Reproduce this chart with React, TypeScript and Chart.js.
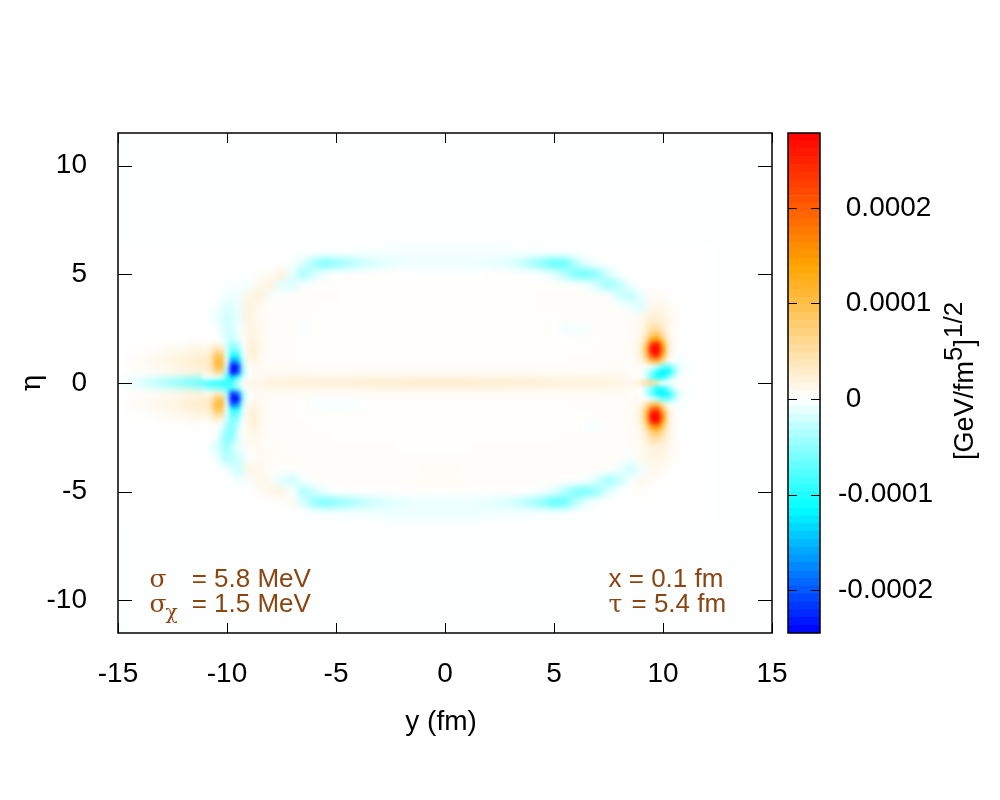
import React, { useEffect, useRef } from "react";
import { Chart, registerables } from "chart.js";

Chart.register(...registerables);

// All field values are in units of 1e-6 GeV/fm^5 ^ 1/2.
const coarseY = [
  -14.5, -14, -13.5, -13, -12.5, -12, -11.5,
  -11, -10.5, -10, -9.5, -9, -8.5,
  -8, -7.5, -7, -6.5, -6, -5.5, -5,
  -4.5, -4, -3.5, -3, -2.5, -2, -1.5, -1, -0.5,
  0, 0.5, 1, 1.5, 2, 2.5, 3, 3.5, 4,
  4.5, 5, 5.5, 6, 6.5, 7, 7.5, 8,
  8.5, 9, 9.5, 10, 10.5, 11, 11.5, 12,
];
const coarseEta = [6, 5.5, 5, 4.5, 4, 3.5, 3, 2.5, 2, 1.5, 1, 0.5, 0, -0.5, -1, -1.5, -2, -2.5, -3, -3.5, -4, -4.5, -5, -5.5, -6];
const coarseValues = [
  [0,0,0,0,0,0,0, 0,0,0,0,0,0, 0,0,0,0,0,-1,-1, -2,-2,-3,-4,-4,-5,-5,-5,-5, -5,-5,-5,-5,-5,-4,-4,-3,-2, -2,-1,-1,0,0,0,0,0, 0,0,0,0,0,0,0,0],
  [0,0,0,0,0,0,0, 0,0,0,0,0,0, 0,0,-3,-15,-40,-62,-50, -42,-30,-22,-16,-12,-9,-7,-7,-7, -7,-7,-7,-8,-9,-12,-16,-26,-42, -58,-75,-70,-32,-10,-2,0,0, 0,0,0,0,0,0,0,0],
  [0,0,0,0,0,0,0, 0,0,0,0,0,3, 5,20,-10,-42,-20,-5,0, 1,1,1,1,1,1,0,0,0, 0,0,0,0,1,1,1,1,0, -4,-12,-32,-62,-66,-50,-18,-2, 0,0,0,0,0,0,0,0],
  [0,0,0,0,0,0,0, 0,0,-2,-4,-5,8, 20,-15,-18,-2,2,2,2, 2,2,2,2,1,1,1,1,1, 1,1,1,1,1,2,2,2,2, 2,2,2,1,-4,-22,-48,-32, -6,0,0,0,0,0,0,0],
  [0,0,0,0,0,0,0, 0,0,-6,-8,12,22, -5,2,3,3,3,3,3, 2,2,2,2,2,1,1,1,1, 1,1,1,1,2,2,2,2,2, 3,3,3,3,3,3,2,-20, -30,-10,6,4,0,0,0,0],
  [0,0,0,0,0,0,0, 0,-3,-16,-10,20,8, 2,3,3,3,3,2,2, 2,2,2,1,1,1,1,1,1, 1,1,1,1,1,2,2,2,2, 3,3,3,3,3,3,3,2, -8,-16,10,12,3,0,0,0],
  [0,0,0,0,0,0,0, 0,-8,-22,-12,18,6, 3,3,3,3,2,2,2, 2,2,1,1,1,1,1,1,1, 1,1,1,1,1,1,2,2,2, 2,2,3,3,3,3,3,3, 4,8,25,18,5,0,0,0],
  [0,0,0,0,0,0,0, 0,-2,-20,-8,14,8, 3,3,3,-4,2,2,2, 2,1,1,1,1,1,1,1,1, 1,1,1,1,1,1,2,2,2, 2,2,-5,-5,-5,3,3,3, 4,10,48,30,5,0,0,0],
  [0,0,0,0,0,0,1, 1,5,-20,-15,14,8, 3,3,3,2,2,2,2, 1,1,1,1,1,1,1,1,1, 1,1,1,1,1,1,1,1,2, 2,2,2,2,2,2,3,3, 4,16,130,70,5,0,0,0],
  [1,2,3,5,8,10,14, 18,50,-18,-60,18,10, 3,3,3,2,2,2,2, 1,1,1,1,1,1,1,1,1, 1,1,1,1,1,1,1,1,2, 2,2,2,2,2,3,3,3, 5,25,300,150,6,0,0,0],
  [3,5,8,12,16,20,25, 30,100,-10,-160,10,6, 3,3,3,2,2,2,2, 2,2,2,1,1,1,1,1,1, 1,1,1,1,2,2,2,2,2, 2,2,2,3,3,3,3,3, 4,14,100,50,0,0,0,0],
  [2,3,5,7,10,14,18, 22,60,-45,-230,0,6, 6,5,5,5,4,4,4, 4,4,4,4,4,4,4,4,4, 4,4,4,4,4,4,4,4,4, 4,4,4,4,4,4,5,5, 4,3,-80,-115,-50,-5,0,0],
  [-8,-15,-25,-35,-45,-55,-65, -75,-90,-95,-30,12,15, 18,20,22,22,22,22,22, 22,24,24,26,26,26,28,28,28, 28,28,28,26,26,26,24,24,24, 22,22,20,20,20,20,18,16, 14,55,40,0,0,0,0,0],
  [2,3,5,7,10,14,18, 22,60,-45,-210,0,6, 6,5,5,5,4,4,4, 4,4,4,4,4,4,4,4,4, 4,4,4,4,4,4,4,4,4, 4,4,4,4,4,4,5,5, 4,0,-85,-115,-45,-4,0,0],
  [3,5,8,12,16,20,25, 30,100,-12,-180,8,6, 3,3,3,2,-3,-4,-4, -4,-3,1,1,1,1,1,1,1, 1,1,1,1,2,2,2,2,2, 2,2,2,3,3,3,3,3, 4,14,95,40,0,0,0,0],
  [1,2,3,5,8,10,14, 18,50,-20,-65,16,10, 3,3,3,2,2,2,2, 2,1,1,1,1,1,1,1,1, 1,1,1,1,1,1,1,1,2, 2,2,2,2,2,3,3,3, 5,25,300,170,6,0,0,0],
  [0,0,0,0,0,0,1, 1,5,-40,-40,12,8, 3,3,3,3,2,2,2, 2,2,2,2,2,2,2,2,2, 2,2,2,2,2,2,2,2,2, 2,2,2,2,-3,-3,3,3, 4,16,150,90,6,0,0,0],
  [0,0,0,0,0,0,0, 0,-10,-55,-18,8,6, 3,3,3,3,3,3,2, 2,2,2,2,2,2,2,2,2, 2,2,2,2,2,2,2,2,2, 2,2,3,3,3,3,3,3, 4,8,50,35,5,0,0,0],
  [0,0,0,0,0,0,0, 0,-15,-45,-10,5,6, 5,4,3,3,3,3,3, 3,3,3,3,3,2,2,2,2, 2,2,2,3,3,3,3,3,3, 3,3,3,3,3,3,3,3, 4,6,18,18,5,0,0,0],
  [0,0,0,0,0,0,0, 0,-3,-35,-25,3,6, 6,5,4,3,3,3,3, 3,3,3,3,3,3,3,3,3, 3,3,3,3,3,3,3,3,3, 3,3,3,3,3,3,3,3, -6,8,14,14,3,0,0,0],
  [0,0,0,0,0,0,0, 0,0,-3,-25,14,12, 3,2,2,3,3,3,3, 3,3,3,3,3,3,3,4,4, 4,4,3,3,3,3,3,3,3, 3,3,3,3,3,3,2,-8, -24,-8,10,6,0,0,0,0],
  [0,0,0,0,0,0,0, 0,0,0,-6,-5,12, 8,-14,-24,-5,2,3,3, 3,3,3,3,3,3,4,5,5, 5,5,4,3,3,3,3,3,3, 3,3,2,1,-4,-18,-44,-28, -4,8,6,0,0,0,0,0],
  [0,0,0,0,0,0,0, 0,0,0,0,0,4, 12,18,0,-38,-22,-6,-1, 1,1,1,1,1,1,1,1,1, 1,1,1,1,1,1,1,1,0, -4,-12,-34,-58,-62,-44,-15,0, 0,5,0,0,0,0,0,0],
  [0,0,0,0,0,0,0, 0,0,0,0,0,0, 0,0,8,-18,-48,-64,-54, -45,-36,-26,-20,-15,-12,-10,-8,-8, -8,-8,-8,-10,-12,-15,-20,-28,-42, -56,-75,-70,-32,-8,-2,0,0, 0,0,0,0,0,0,0,0],
  [0,0,0,0,0,0,0, 0,0,0,0,0,0, 0,0,0,0,-1,-2,-3, -3,-4,-5,-6,-7,-7,-7,-7,-7, -7,-7,-7,-7,-6,-5,-4,-4,-3, -2,-2,-1,0,0,0,0,0, 0,0,0,0,0,0,0,0],
];

const fineEta = [2.5, 2.25, 2, 1.75, 1.5, 1.25, 1, 0.75, 0.5, 0.25, 0, -0.25, -0.5, -0.75, -1, -1.25, -1.5, -1.75, -2, -2.25, -2.5];
const leftY = [-11, -10.75, -10.5, -10.25, -10, -9.75, -9.5, -9.25, -9, -8.75, -8.5];
const leftValues = [
  [0,0,0,-12,-20,-18,-8,6,14,14,8],
  [0,0,0,-10,-20,-22,-10,6,14,16,10],
  [0,0,2,-4,-20,-25,-15,2,14,18,10],
  [4,8,18,12,-22,-45,-35,-4,16,22,12],
  [14,22,50,42,-18,-65,-55,-6,18,24,12],
  [20,32,85,85,-15,-110,-95,-12,16,22,10],
  [26,38,100,110,-10,-170,-150,-22,10,16,8],
  [24,36,95,105,-25,-250,-220,-35,5,10,6],
  [16,26,60,60,-45,-250,-210,-40,0,6,6],
  [-5,-8,-10,-15,-75,-130,-85,-20,0,5,5],
  [-75,-85,-90,-95,-95,-75,-30,5,15,15,15],
  [-40,-50,-55,-60,-75,-85,-50,-8,8,10,8],
  [10,14,30,30,-45,-220,-190,-40,0,6,6],
  [22,34,80,95,-30,-270,-240,-40,2,8,6],
  [26,38,100,110,-12,-190,-170,-22,8,12,8],
  [20,32,85,85,-12,-100,-95,-12,14,20,10],
  [14,22,50,45,-20,-70,-60,-8,16,25,12],
  [4,10,18,12,-28,-60,-40,-4,14,24,12],
  [0,0,4,-8,-40,-55,-28,0,12,20,10],
  [0,0,0,-20,-48,-55,-22,2,10,16,10],
  [0,0,0,-32,-55,-50,-18,2,8,12,8],
];
const rightY = [8.5, 8.75, 9, 9.25, 9.5, 9.75, 10, 10.25, 10.5, 10.75, 11];
const rightValues = [
  [4,6,10,25,45,50,30,12,4,0,0],
  [4,6,12,35,70,80,45,16,5,0,0],
  [4,7,16,55,130,145,80,20,5,0,0],
  [5,8,22,90,240,270,140,25,6,0,0],
  [5,8,25,110,300,330,170,28,6,0,0],
  [4,8,20,85,220,250,120,22,4,-2,-2],
  [4,7,14,45,100,110,55,8,-4,-6,-3],
  [3,5,6,4,-5,-30,-60,-70,-40,-10,-3],
  [3,4,2,-20,-55,-95,-120,-110,-60,-15,-3],
  [4,5,2,-25,-65,-105,-100,-60,-20,-5,-1],
  [12,15,30,55,55,35,0,0,0,0,0],
  [4,5,0,-25,-60,-100,-95,-55,-18,-4,-1],
  [3,4,0,-25,-70,-110,-120,-105,-55,-15,-3],
  [3,5,4,-3,-12,-35,-60,-62,-35,-8,-2],
  [4,7,14,45,95,100,40,5,-4,-4,-2],
  [4,8,20,85,210,230,110,22,4,-2,-2],
  [5,8,25,110,300,330,170,28,6,0,0],
  [5,8,22,95,260,290,150,28,6,0,0],
  [4,7,16,60,150,165,90,24,6,0,0],
  [4,6,12,35,80,90,55,20,6,0,0],
  [4,6,10,25,50,55,35,16,5,0,0],
];

const xTicks = [-15, -10, -5, 0, 5, 10, 15];
const etaTicks = [-10, -5, 0, 5, 10];
const cbTicks = [-0.0002, -0.0001, 0, 0.0001, 0.0002];
const cbMin = -0.000245;
const cbMax = 0.0002785;
const cbLevels = 64;

const INK = "#000000";
const BROWN = "#8b4513";
const SANS = '"Liberation Sans", Arial, sans-serif';
const SERIF = '"DejaVu Serif", "Liberation Serif", serif';

function lerp(a: number[], b: number[], t: number) {
  return `rgb(${a.map((c, i) => Math.round(c + (b[i] - c) * t)).join(",")})`;
}
function colorOf(v: number) {
  if (v >= 0) {
    const t = Math.min(1, v / cbMax);
    return t < 0.5 ? lerp([255, 255, 255], [255, 165, 0], t / 0.5) : lerp([255, 165, 0], [255, 0, 0], (t - 0.5) / 0.5);
  }
  const t = Math.min(1, v / cbMin);
  return t < 0.47 ? lerp([255, 255, 255], [0, 255, 255], t / 0.47) : lerp([0, 255, 255], [0, 0, 255], (t - 0.47) / 0.53);
}
function cells(ys: number[], etas: number[], rows: number[][]) {
  const out: { x: number; y: number; v: number }[] = [];
  rows.forEach((row, j) => row.forEach((v, i) => out.push({ x: ys[i], y: etas[j], v })));
  return out;
}
function blurArea(chart: any, px: number) {
  const { ctx, chartArea: a, canvas } = chart;
  ctx.save();
  ctx.beginPath();
  ctx.rect(a.left, a.top, a.right - a.left, a.bottom - a.top);
  ctx.clip();
  ctx.filter = `blur(${px}px)`;
  ctx.drawImage(canvas, 0, 0, 1000, 800);
  ctx.restore();
}
function frameAndTicks(chart: any, xScale: any, yScale: any, xLen: number, yLen: number) {
  const { ctx, chartArea: a } = chart;
  ctx.save();
  ctx.strokeStyle = INK;
  ctx.lineWidth = 1;
  ctx.beginPath();
  if (xScale) {
    xScale.ticks.forEach((t: any) => {
      const x = Math.round(xScale.getPixelForValue(t.value)) + 0.5;
      ctx.moveTo(x, a.bottom);
      ctx.lineTo(x, a.bottom - xLen);
      ctx.moveTo(x, a.top);
      ctx.lineTo(x, a.top + xLen);
    });
  }
  yScale.ticks.forEach((t: any) => {
    const y = Math.round(yScale.getPixelForValue(t.value)) + 0.5;
    ctx.moveTo(a.left, y);
    ctx.lineTo(a.left + yLen, y);
    ctx.moveTo(a.right, y);
    ctx.lineTo(a.right - yLen, y);
  });
  ctx.stroke();
  ctx.lineWidth = 1.5;
  ctx.strokeRect(a.left, a.top, a.right - a.left, a.bottom - a.top);
  ctx.restore();
}

const plotPlugin = {
  id: "plotPlugin",
  beforeDatasetsDraw(chart: any) {
    const { ctx, chartArea: a } = chart;
    ctx.save();
    ctx.fillStyle = "#ffffff";
    ctx.fillRect(0, 0, 1000, 800);
    ctx.fillStyle = "#fdffff";
    ctx.fillRect(a.left - 20, a.top - 20, a.right - a.left + 40, a.bottom - a.top + 40);
    ctx.restore();
  },
  afterDatasetDraw(chart: any, args: any) {
    if (args.index === 0) blurArea(chart, 3);
  },
  afterDatasetsDraw(chart: any) {
    blurArea(chart, 2.2);
    const { ctx } = chart;
    ctx.save();
    ctx.fillStyle = "#ffffff";
    const a = chart.chartArea;
    ctx.fillRect(0, 0, 1000, a.top);
    ctx.fillRect(0, a.bottom, 1000, 800 - a.bottom);
    ctx.fillRect(0, 0, a.left, 800);
    ctx.fillRect(a.right, 0, 1000 - a.right, 800);
    ctx.restore();
  },
  afterDraw(chart: any) {
    const { ctx, scales } = chart;
    frameAndTicks(chart, scales.x, scales.y, 10, 14);
    const x = scales.x;
    const y = scales.y;
    ctx.save();
    ctx.fillStyle = BROWN;
    ctx.textBaseline = "alphabetic";
    ctx.textAlign = "left";
    const l1 = y.getPixelForValue(-9.38);
    const l2 = y.getPixelForValue(-10.53);
    const xl = x.getPixelForValue(-13.55);
    const xe = x.getPixelForValue(-11.62);
    const xr = x.getPixelForValue(7.5);
    const big = `26px ${SANS}`;
    ctx.font = `25px ${SERIF}`;
    ctx.fillText("σ", xl, l1);
    ctx.fillText("σ", xl, l2);
    ctx.font = `20px ${SERIF}`;
    ctx.fillText("χ", xl + 16, l2 + 7);
    ctx.font = big;
    ctx.fillText("= 5.8 MeV", xe, l1);
    ctx.fillText("= 1.5 MeV", xe, l2);
    ctx.fillText("x = 0.1 fm", xr, l1);
    ctx.font = `25px ${SERIF}`;
    ctx.fillText("τ", xr, l2);
    ctx.font = big;
    ctx.fillText("= 5.4 fm", xr + 23, l2);
    ctx.restore();
  },
};

const barPlugin = {
  id: "barPlugin",
  afterDraw(chart: any) {
    const { ctx, scales } = chart;
    frameAndTicks(chart, null, scales.y, 0, 9);
    ctx.save();
    ctx.translate(973, 460);
    ctx.rotate(-Math.PI / 2);
    ctx.fillStyle = INK;
    ctx.textBaseline = "alphabetic";
    ctx.textAlign = "left";
    ctx.font = `27px ${SANS}`;
    const a = "[GeV/fm";
    ctx.fillText(a, 0, 0);
    let w = ctx.measureText(a).width;
    ctx.font = `26px ${SANS}`;
    ctx.fillText("5", w, -11);
    w += ctx.measureText("5").width;
    ctx.font = `27px ${SANS}`;
    ctx.fillText("]", w, 0);
    w += ctx.measureText("]").width + 1;
    ctx.font = `26px ${SANS}`;
    ctx.fillText("1/2", w, -11);
    ctx.restore();
  },
};

export default function App() {
  const mainRef = useRef<HTMLCanvasElement>(null);
  const barRef = useRef<HTMLCanvasElement>(null);

  useEffect(() => {
    const coarse = cells(coarseY, coarseEta, coarseValues);
    const fine = [...cells(leftY, fineEta, leftValues), ...cells(rightY, fineEta, rightValues)];
    const tickFont = { family: SANS, size: 28 };
    const main = new Chart(mainRef.current as HTMLCanvasElement, {
      type: "scatter",
      data: {
        datasets: [
          {
            data: coarse,
            order: 1,
            pointStyle: "rect",
            pointRadius: 8,
            pointBorderWidth: 0,
            pointBackgroundColor: coarse.map((c) => colorOf(c.v * 1e-6)),
          },
          {
            data: fine,
            order: 0,
            pointStyle: "rect",
            pointRadius: 4.1,
            pointBorderWidth: 0,
            pointBackgroundColor: fine.map((c) => colorOf(c.v * 1e-6)),
          },
        ],
      } as any,
      plugins: [plotPlugin],
      options: {
        animation: false,
        responsive: false,
        devicePixelRatio: 1,
        events: [],
        layout: { padding: { left: 0, top: 133, right: 228, bottom: 61 } },
        plugins: { legend: { display: false }, tooltip: { enabled: false }, title: { display: false } },
        scales: {
          x: {
            type: "linear",
            min: -15,
            max: 15,
            afterBuildTicks: (s: any) => {
              s.ticks = xTicks.map((value) => ({ value }));
            },
            afterFit: (s: any) => {
              s.height = 106;
            },
            grid: { display: false, z: 1 },
            border: { display: false },
            ticks: { font: tickFont, color: INK, padding: 16, maxRotation: 0, autoSkip: false, z: 1 },
            title: { display: true, text: "y (fm) ", font: tickFont, color: INK, padding: 0 },
          },
          y: {
            type: "linear",
            min: -11.5,
            max: 11.5,
            afterBuildTicks: (s: any) => {
              s.ticks = etaTicks.map((value) => ({ value }));
            },
            afterFit: (s: any) => {
              s.width = 118;
            },
            grid: { display: false, z: 1 },
            border: { display: false },
            ticks: { font: tickFont, color: INK, padding: 23, autoSkip: false, z: 1 },
            title: { display: true, text: "η", font: { family: SERIF, size: 28 }, color: INK, padding: { top: 16, bottom: 0 } },
          },
        },
      } as any,
    });

    const edges: number[] = [];
    for (let i = 0; i <= cbLevels; i++) edges.push(cbMin + ((cbMax - cbMin) * i) / cbLevels);
    const bands = edges.slice(0, -1).map((lo, i) => ({
      data: [[lo, edges[i + 1]]],
      backgroundColor: colorOf((lo + edges[i + 1]) / 2),
      borderWidth: 0,
      barPercentage: 1,
      categoryPercentage: 1,
      grouped: false,
    }));
    const bar = new Chart(barRef.current as HTMLCanvasElement, {
      type: "bar",
      data: { labels: ["colour"], datasets: bands } as any,
      plugins: [barPlugin],
      options: {
        animation: false,
        responsive: false,
        devicePixelRatio: 1,
        events: [],
        layout: { padding: { left: 788, top: 133, right: 0, bottom: 167 } },
        plugins: { legend: { display: false }, tooltip: { enabled: false }, title: { display: false } },
        scales: {
          x: { display: false, grid: { display: false } },
          y: {
            position: "right",
            min: cbMin,
            max: cbMax,
            afterBuildTicks: (s: any) => {
              s.ticks = cbTicks.map((value) => ({ value }));
            },
            afterFit: (s: any) => {
              s.width = 180;
            },
            grid: { display: false },
            border: { display: false },
            ticks: {
              font: tickFont,
              color: INK,
              padding: 10,
              autoSkip: false,
              callback: (v: any) => {
                const n = Number(v);
                const s = Math.abs(n) < 1e-9 ? "0" : n.toFixed(4);
                return n < -1e-9 ? s : " " + s;
              },
            },
          },
        },
      } as any,
    });
    return () => {
      main.destroy();
      bar.destroy();
    };
  }, []);

  const style: React.CSSProperties = { position: "absolute", left: 0, top: 0 };
  return (
    <div style={{ position: "absolute", left: 0, top: 0, width: 1000, height: 800, background: "#ffffff" }}>
      <canvas ref={mainRef} width={1000} height={800} style={style} />
      <canvas ref={barRef} width={1000} height={800} style={style} />
    </div>
  );
}
